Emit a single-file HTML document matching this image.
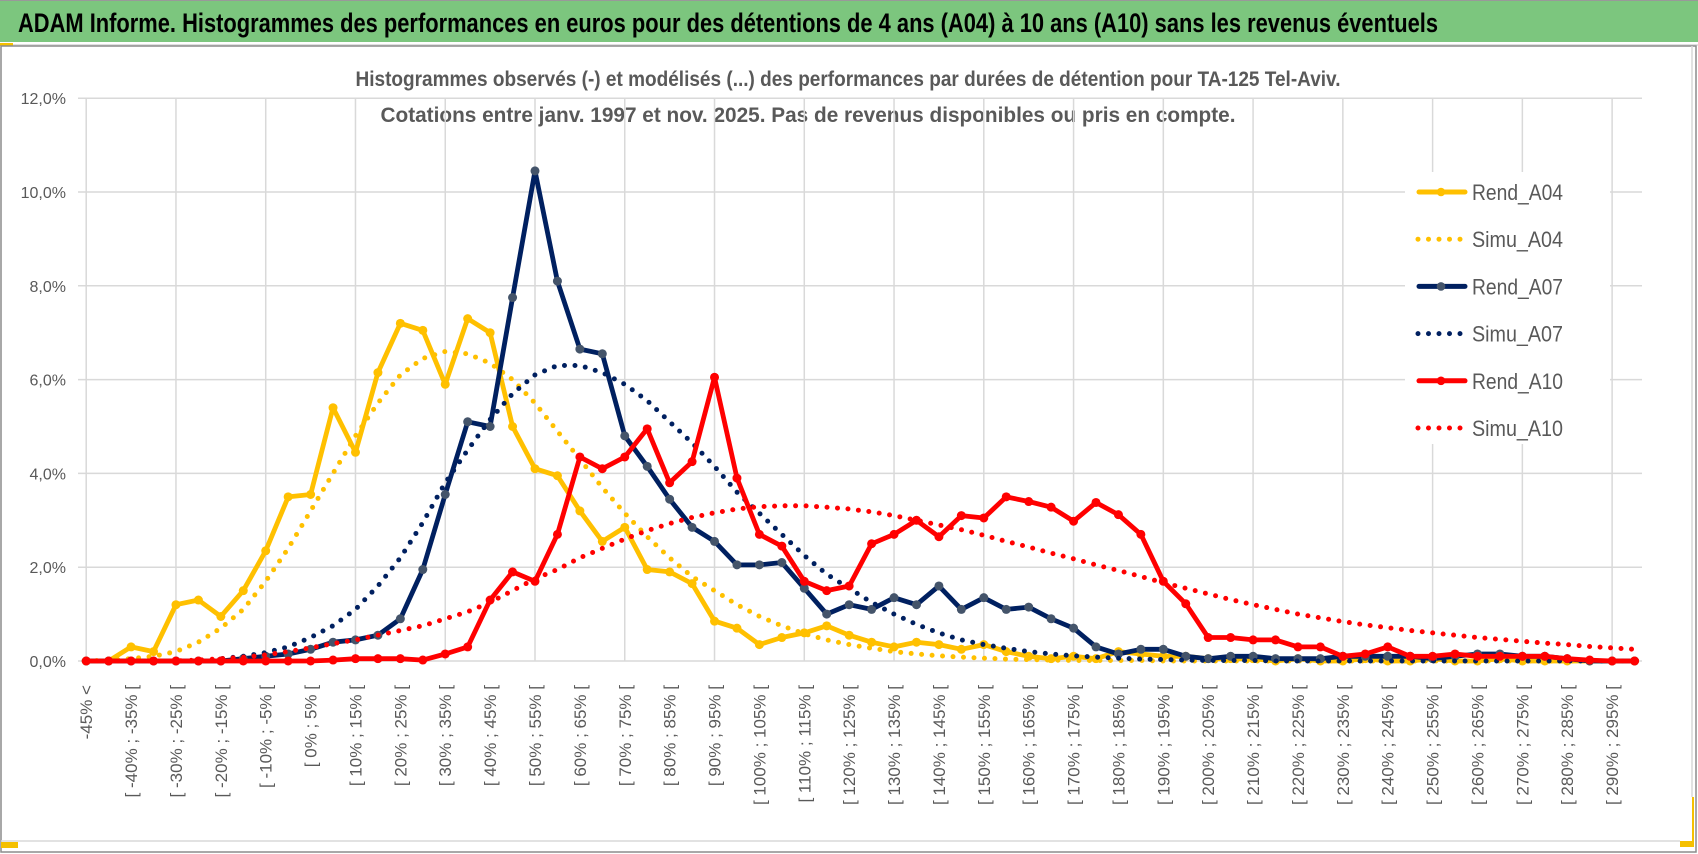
<!DOCTYPE html>
<html><head><meta charset="utf-8">
<style>
html,body{margin:0;padding:0;background:#fff;}
body{width:1698px;height:854px;overflow:hidden;font-family:"Liberation Sans",sans-serif;}
svg{display:block;}
</style></head>
<body>
<svg id="chart" width="1698" height="854" viewBox="0 0 1698 854" xmlns="http://www.w3.org/2000/svg">
  <rect x="0" y="0" width="1698" height="854" fill="#fff"/>
  <rect x="0" y="0" width="1698" height="42" fill="#7cc67e"/>
  <rect x="0" y="0" width="1698" height="1" fill="#999"/>
  <text x="18" y="32" font-size="27" font-weight="bold" fill="#000" textLength="1420" lengthAdjust="spacingAndGlyphs" style="font-family:'Liberation Sans',sans-serif">ADAM Informe. Histogrammes des performances en euros pour des détentions de 4 ans (A04) à 10 ans (A10) sans les revenus éventuels</text>
  <rect x="0" y="43" width="13" height="3" fill="#f5c000"/>
  <rect x="13" y="44" width="1685" height="2" fill="#e0e0e0"/>
  <rect x="1" y="46" width="1695" height="806" fill="none" stroke="#8c8c8c" stroke-width="1.5"/>
  <line x1="1" y1="841" x2="1692" y2="841" stroke="#d9d9d9" stroke-width="1.5"/>
  <line x1="1692" y1="46" x2="1692" y2="841" stroke="#d9d9d9" stroke-width="1.5"/>
  <rect x="1" y="842" width="17" height="6" fill="#f5c000"/>
  <rect x="1680" y="797" width="14" height="50" fill="#f5c000"/>
  <rect x="1680" y="797" width="12" height="44" fill="#fff"/>
  <text x="848" y="86" text-anchor="middle" font-size="21" font-weight="bold" fill="#595959" textLength="985" lengthAdjust="spacingAndGlyphs">Histogrammes observés (-) et modélisés (...) des performances par durées de détention pour TA-125 Tel-Aviv.</text>
  <text x="808" y="122" text-anchor="middle" font-size="21" font-weight="bold" fill="#595959" textLength="855" lengthAdjust="spacingAndGlyphs">Cotations entre janv. 1997 et nov. 2025. Pas de revenus disponibles ou pris en compte.</text>
  <g id="grid"></g>
  <g id="series"></g>
  <g id="axes"></g>
  <g id="legend"></g>
</svg>
<script>
const categories = [];
categories.push("-45% <");
for (let k = 1; k < 70; k++) { const a = -45 + 5 * (k - 1); categories.push("[ " + a + "% ; " + (a + 5) + "% ["); }
const yTicks = [0, 2, 4, 6, 8, 10, 12];
const yTickLabels = ["0,0%", "2,0%", "4,0%", "6,0%", "8,0%", "10,0%", "12,0%"];
const rendA04 = [0,0,0.3,0.2,1.2,1.3,0.95,1.5,2.35,3.5,3.55,5.4,4.45,6.15,7.2,7.05,5.9,7.3,7.0,5.0,4.1,3.95,3.2,2.55,2.85,1.95,1.9,1.65,0.85,0.7,0.35,0.5,0.6,0.75,0.55,0.4,0.3,0.4,0.35,0.25,0.35,0.2,0.1,0.05,0.1,0.05,0.2,0.15,0.1,0.1,0.05,0.05,0.05,0,0.05,0,0,0.05,0,0,0.05,0,0,0.05,0,0,0,0,0,0];
const simuA04 = [0,0.02,0.05,0.1,0.2,0.4,0.7,1.1,1.7,2.4,3.2,4.0,4.8,5.5,6.1,6.45,6.6,6.55,6.35,6.0,5.5,4.9,4.3,3.7,3.15,2.65,2.2,1.8,1.5,1.2,0.95,0.75,0.58,0.45,0.35,0.27,0.2,0.15,0.11,0.08,0.06,0.04,0.03,0.02,0.01,0.01,0.01,0.01,0,0,0,0,0,0,0,0,0,0,0,0,0,0,0,0,0,0,0,0,0,0];
const rendA07 = [0,0,0,0,0,0,0,0.05,0.1,0.15,0.25,0.4,0.45,0.55,0.9,1.95,3.55,5.1,5.0,7.75,10.45,8.1,6.65,6.55,4.8,4.15,3.45,2.85,2.55,2.05,2.05,2.1,1.55,1.0,1.2,1.1,1.35,1.2,1.6,1.1,1.35,1.1,1.15,0.9,0.7,0.3,0.15,0.25,0.25,0.1,0.05,0.1,0.1,0.05,0.05,0.05,0.1,0.1,0.1,0.1,0.05,0.1,0.15,0.15,0.1,0.1,0.05,0,0,0];
const simuA07 = [0,0,0,0,0,0,0.05,0.1,0.18,0.3,0.5,0.75,1.1,1.6,2.2,2.95,3.8,4.5,5.15,5.7,6.1,6.3,6.3,6.15,5.9,5.55,5.1,4.65,4.15,3.6,3.15,2.7,2.25,1.85,1.55,1.25,1.0,0.78,0.6,0.45,0.35,0.27,0.2,0.15,0.11,0.08,0.06,0.04,0.03,0.02,0.01,0.01,0.01,0,0,0,0,0,0,0,0,0,0,0,0,0,0,0,0,0];
const rendA10 = [0,0,0,0,0,0,0,0,0,0,0,0.02,0.05,0.05,0.05,0.02,0.15,0.3,1.3,1.9,1.7,2.7,4.35,4.1,4.35,4.95,3.8,4.25,6.05,3.9,2.7,2.45,1.7,1.5,1.6,2.5,2.7,3.0,2.65,3.1,3.05,3.5,3.4,3.28,2.98,3.38,3.12,2.7,1.7,1.22,0.5,0.5,0.45,0.45,0.3,0.3,0.1,0.15,0.3,0.1,0.1,0.15,0.1,0.1,0.1,0.1,0.05,0.02,0,0];
const simuA10 = [0,0,0,0,0,0.02,0.05,0.08,0.13,0.2,0.28,0.37,0.45,0.55,0.65,0.75,0.9,1.05,1.25,1.5,1.75,1.95,2.2,2.4,2.6,2.78,2.93,3.06,3.16,3.24,3.29,3.31,3.31,3.28,3.24,3.18,3.1,3.0,2.9,2.8,2.68,2.55,2.43,2.3,2.18,2.05,1.93,1.8,1.67,1.55,1.43,1.31,1.2,1.1,1.0,0.92,0.84,0.77,0.71,0.65,0.6,0.55,0.5,0.46,0.42,0.38,0.35,0.31,0.28,0.25];
const seriesNames = ["Rend_A04","Simu_A04","Rend_A07","Simu_A07","Rend_A10","Simu_A10"];

const NS = "http://www.w3.org/2000/svg";
const X0 = 86.2, DX = 22.44, Y0 = 661, DY = 46.9;
function xPos(i) { return X0 + DX * i; }
function yPos(v) { return Y0 - DY * v; }
function mk(tag, attrs, parent) { const e = document.createElementNS(NS, tag); for (const k in attrs) e.setAttribute(k, attrs[k]); parent.appendChild(e); return e; }

const grid = document.getElementById("grid");
yTicks.forEach((t, i) => {
  const l = mk("line", {x1: 78, x2: 1642, y1: yPos(t), y2: yPos(t), stroke: "#d9d9d9", "stroke-width": 1.5}, grid);
  
  
  const tx = mk("text", {x: 66, y: yPos(t) + 6, "text-anchor": "end", "font-size": 16, fill: "#595959"}, grid);
  tx.textContent = yTickLabels[i];
  
  
});
for (let i = 0; i < categories.length; i += 4) {
  const l = mk("line", {x1: xPos(i), x2: xPos(i), y1: yPos(12), y2: yPos(0), stroke: "#d9d9d9", "stroke-width": 1.5}, grid);
  
  
}
const axes = document.getElementById("axes");
for (let i = 0; i < categories.length; i += 2) {
  const x = xPos(i) + 6, y = 685;
  const t = mk("text", {x: x, y: y, transform: "rotate(-90 " + x + " " + y + ")", "text-anchor": "end", "font-size": 17, fill: "#595959"}, axes);
  t.textContent = categories[i];
  
  
}

const sg = document.getElementById("series");
function pts(arr) { return arr.map((v, i) => xPos(i).toFixed(1) + "," + yPos(v).toFixed(1)).join(" "); }
function drawRend(arr, color, mcolor, name) {
  const g = mk("g", {}, sg);
  
  
  mk("polyline", {points: pts(arr), fill: "none", stroke: color, "stroke-width": 4.8, "stroke-linejoin": "round", "stroke-linecap": "round"}, g);
  arr.forEach((v, i) => {
    const c = mk("circle", {cx: xPos(i), cy: yPos(v), r: 4.5, fill: mcolor}, g);
    
    
  });
}
function drawSimu(arr, color, name) {
  const p = mk("polyline", {points: pts(arr), fill: "none", stroke: color, "stroke-width": 5, "stroke-dasharray": "0 10.5", "stroke-linecap": "round", "stroke-linejoin": "round"}, sg);
  
  
}
drawRend(rendA04, "#ffc000", "#ffc000", "rend-a04-line");
drawSimu(simuA04, "#ffc000", "simu-a04-line");
drawRend(rendA07, "#002060", "#44546a", "rend-a07-line");
drawSimu(simuA07, "#002060", "simu-a07-line");
drawRend(rendA10, "#ff0000", "#ff0000", "rend-a10-line");
drawSimu(simuA10, "#ff0000", "simu-a10-line");

const lg = document.getElementById("legend");


mk("rect", {x: 1405, y: 172, width: 205, height: 272, fill: "#fff"}, lg);
const legColors = ["#ffc000","#ffc000","#002060","#002060","#ff0000","#ff0000"];
const legMarker = ["#ffc000","","#44546a","","#ff0000",""];
seriesNames.forEach((n, i) => {
  const y = 192 + i * 47.2;
  const g = mk("g", {}, lg);
  
  
  if (i % 2 === 0) {
    mk("line", {x1: 1419, x2: 1465, y1: y, y2: y, stroke: legColors[i], "stroke-width": 5, "stroke-linecap": "round"}, g);
    mk("circle", {cx: 1441, cy: y, r: 4.3, fill: legMarker[i]}, g);
  } else {
    mk("line", {x1: 1418, x2: 1466, y1: y, y2: y, stroke: legColors[i], "stroke-width": 5, "stroke-dasharray": "0 10.5", "stroke-linecap": "round"}, g);
  }
  const t = mk("text", {x: 1472, y: y + 8, "font-size": 22, fill: "#595959", textLength: 91, lengthAdjust: "spacingAndGlyphs"}, g);
  t.textContent = n;
});
</script>
</body></html>
